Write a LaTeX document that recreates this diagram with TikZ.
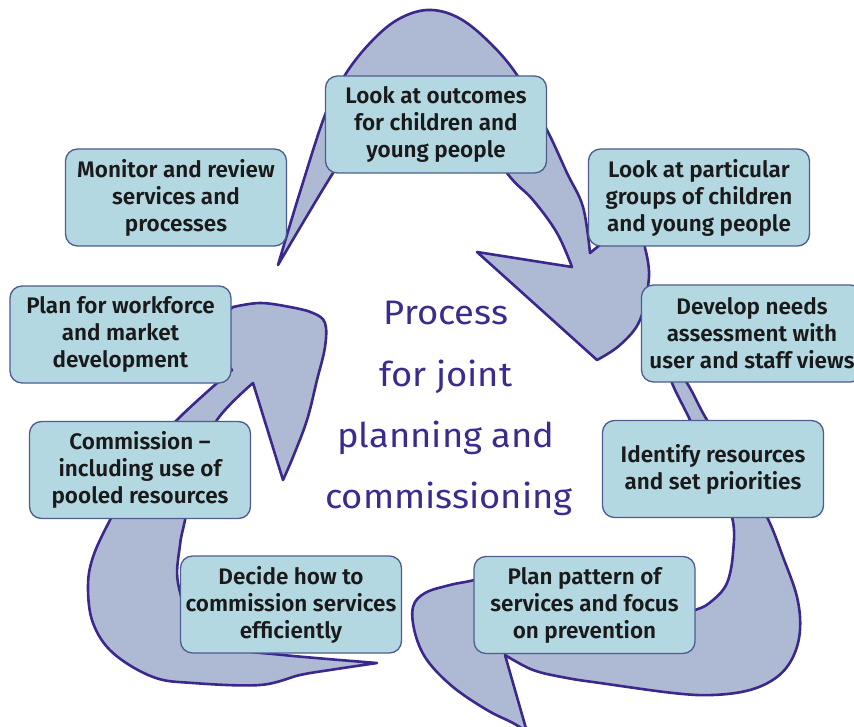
\documentclass[tikz,border=0pt]{standalone}
\usepackage{fontspec}
\IfFontExistsTF{Fira Sans SemiBold}{\newfontfamily\boxfont{Fira Sans SemiBold}}{\newfontfamily\boxfontbase{Fira Sans}\newcommand\boxfont{\boxfontbase\bfseries}}
\newfontfamily\titlefont{Fira Sans}[FakeStretch=1.07]
\definecolor{arrowfill}{HTML}{AEBAD3}
\definecolor{arrowline}{HTML}{3A288C}
\definecolor{boxfill}{HTML}{B4D8E2}
\definecolor{boxline}{HTML}{4E5C8E}
\definecolor{titlecol}{HTML}{3C2A8E}
\definecolor{textcol}{HTML}{1A1A1A}
\tikzset{
  cyc/.style={fill=arrowfill, draw=arrowline, line width=2.6pt, line join=round},
  stage/.style={draw=boxline, line width=1.3pt, fill=boxfill, rounded corners=12pt,
    minimum width=221pt, minimum height=97pt, inner sep=0pt, align=center,
    text=textcol, font=\boxfont\fontsize{22.5}{27}\selectfont},
  ttl/.style={text=titlecol, font=\titlefont\fontsize{34}{40}\selectfont, anchor=base, inner sep=0pt}
}
\begin{document}
\begin{tikzpicture}[x=1pt,y=-1pt]
\useasboundingbox (0,0) rectangle (854,727);
\clip (0,0) rectangle (854,727);
% top arrow
\filldraw[cyc] plot[smooth,tension=0.6] coordinates {(278,265) (300,192) (325,115) (345,75) (370,43) (397,20) (427,10) (457,17) (487,40) (517,75) (547,130) (567,173) (583,207) (590,253)}
  -- (640,212)
  -- plot[smooth,tension=0.6] coordinates {(645,248) (649,277) (640,320) (620,345) (597,360)}
  -- (477,252)
  -- plot[smooth,tension=0.6] coordinates {(572,267) (557,233) (533,200) (507,173) (470,115) (420,98) (370,120) (333,173) (278,265)} -- cycle;
% right arrow
\filldraw[cyc] plot[smooth,tension=0.6] coordinates {(665,355) (687,383) (707,420) (740,470) (767,517) (783,557) (797,597) (800,630) (793,657) (777,677) (750,690) (713,695) (673,693) (600,683) (567,678) (533,670) (505,655)}
  -- (527,732)
  -- plot[smooth,tension=0.6] coordinates {(527,732) (513,723) (487,710) (453,687) (427,660) (415,633) (413,607) (425,593) (450,585) (474,580) (495,572)}
  -- (600,625)
  -- plot[smooth,tension=0.6] coordinates {(600,625) (650,620) (695,610) (713,600) (727,583) (733,553) (732,517) (712,470) (690,420) (672,383) (665,355)} -- cycle;
% left arrow
\filldraw[cyc] plot[smooth,tension=0.6] coordinates {(377,663) (330,670) (300,675) (260,685) (193,683) (153,677) (113,653) (93,623) (88,587) (93,557) (110,520) (140,465) (177,420) (232,370)}
  -- (200,335)
  -- plot[smooth,tension=0.6] coordinates {(233,307) (260,303) (290,307) (313,313) (325,323) (325,347) (317,380) (307,420) (293,457) (283,480)}
  -- (253,383)
  -- plot[smooth,tension=0.6] coordinates {(253,383) (217,420) (195,470) (185,520) (180,545) (178,583) (195,625) (235,648) (283,655) (377,663)} -- cycle;
% stages
\node[stage] (outcomes) at (436,124.5) {Look at outcomes\\for children and\\young people};
\node[stage] (groups) at (699,197.5) {Look at particular\\groups of children\\and young people};
\node[stage] (needs) at (752,333.5) {Develop needs\\assessment with\\user and staff views};
\node[stage] (identify) at (713,469) {Identify resources\\and set priorities};
\node[stage] (pattern) at (584.5,605) {Plan pattern of\\services and focus\\on prevention};
\node[stage] (decide) at (291,604.5) {Decide how to\\commission services\\efficiently};
\node[stage] (commission) at (140,470) {Commission –\\including use of\\pooled resources};
\node[stage] (workforce) at (120.5,334.5) {Plan for workforce\\and market\\development};
\node[stage] (monitor) at (176,197.5) {Monitor and review\\services and\\processes};
% title
\node[ttl] (t1) at (446,325) {Process};
\node[ttl] (t2) at (446,386) {for joint};
\node[ttl] (t3) at (446,447) {planning and};
\node[ttl] (t4) at (449,508) {commissioning};
\end{tikzpicture}
\end{document}
